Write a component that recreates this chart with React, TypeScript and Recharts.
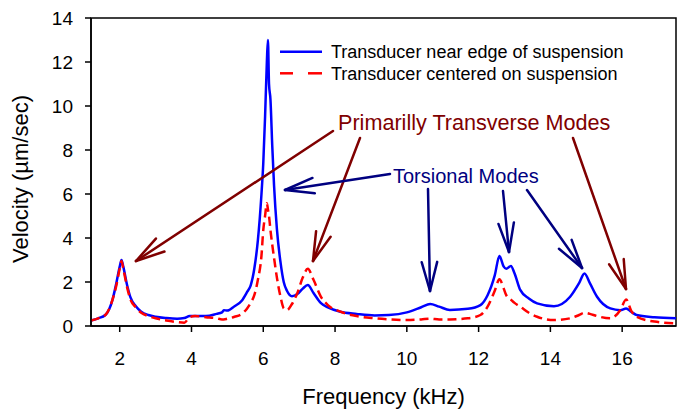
import React from 'react';
import { LineChart, Line, XAxis, YAxis, ReferenceArea } from 'recharts';

const FONT = '"Liberation Sans", Arial, sans-serif';

// frequency in kHz
const FREQ = [
  1.2, 1.4, 1.6, 1.8, 1.9, 2.0, 2.05, 2.1, 2.2, 2.3, 2.45, 2.6, 2.8, 3.0, 3.3, 3.6, 3.8, 3.95,
  4.1, 4.4, 4.7, 4.85, 4.9, 5.0, 5.2, 5.4, 5.55, 5.65, 5.75, 5.85, 5.95, 6.0, 6.05, 6.1, 6.13,
  6.16, 6.2, 6.25, 6.3, 6.38, 6.48, 6.57, 6.66, 6.8, 6.95, 7.1, 7.24, 7.4, 7.6, 7.8, 8.15, 8.6,
  9.1, 9.5, 10.0, 10.4, 10.65, 10.9, 11.2, 11.7, 12.05, 12.25, 12.45, 12.58, 12.7, 12.77, 12.9,
  13.0, 13.16, 13.4, 13.63, 14.1, 14.55, 14.8, 14.95, 15.1, 15.3, 15.67, 15.95, 16.11, 16.25,
  16.4, 16.9, 17.5,
];

// velocity (um/sec), transducer near edge of suspension
const EDGE = [
  0.25, 0.35, 0.5, 1.2, 1.9, 2.7, 3.0, 2.7, 1.9, 1.3, 0.9, 0.65, 0.5, 0.42, 0.36, 0.33, 0.36, 0.45,
  0.45, 0.45, 0.55, 0.62, 0.72, 0.7, 0.9, 1.15, 1.55, 1.85, 2.6, 3.9, 6.0, 7.4, 9.5, 12.0, 13.0,
  11.0, 10.3, 8.2, 6.4, 4.4, 2.9, 2.0, 1.6, 1.35, 1.45, 1.7, 1.86, 1.5, 1.05, 0.85, 0.65, 0.55,
  0.48, 0.5, 0.62, 0.85, 1.0, 0.88, 0.73, 0.78, 0.95, 1.4, 2.3, 3.18, 2.7, 2.6, 2.73,
  2.4, 1.64, 1.25, 1.03, 0.9, 1.33, 1.95, 2.39, 1.95, 1.33, 0.8, 0.72, 0.8, 0.65,
  0.5, 0.4, 0.35,
];

// velocity (um/sec), transducer centered on suspension
const CENTER = [
  0.25, 0.35, 0.5, 1.2, 1.8, 2.6, 2.95, 2.6, 1.8, 1.2, 0.85, 0.6, 0.45, 0.35, 0.25, 0.18, 0.15, 0.4,
  0.45, 0.4, 0.35, 0.3, 0.3, 0.33, 0.42, 0.55, 0.8, 1.05, 1.4, 2.1, 3.2, 4.36, 5.0, 5.58, 5.3,
  5.0, 4.36, 3.7, 3.1, 2.2, 1.33, 0.8, 0.72, 1.0, 1.5, 2.2, 2.6, 2.1, 1.35, 0.95, 0.65, 0.45,
  0.35, 0.3, 0.27, 0.3, 0.33, 0.3, 0.3, 0.35, 0.5, 0.88, 1.6, 2.12, 1.7, 1.4, 1.2,
  1.05, 0.88, 0.6, 0.42, 0.27, 0.35, 0.5, 0.6, 0.55, 0.45, 0.35, 0.73, 1.21, 0.7,
  0.42, 0.2, 0.12,
];

const X_TICKS = [2, 4, 6, 8, 10, 12, 14, 16];
const Y_TICKS = [0, 2, 4, 6, 8, 10, 12, 14];

const SERIES_NAMES = ['Transducer near edge of suspension', 'Transducer centered on suspension'];

const data = FREQ.map((f, i) => ({ f, edge: EDGE[i], center: CENTER[i] }));

// annotation arrows, pixel positions [tailX, tailY, tipX, tipY]
const RED_ARROWS = [
  [333, 131, 136, 261],
  [360, 138, 313, 261],
  [573, 138, 626, 289],
];
const NAVY_ARROWS = [
  [390, 174, 285, 190],
  [428, 189, 430, 291],
  [503, 191, 509, 252],
  [527, 190, 582, 268],
];

const Arrow = ({ a, color }: { a: number[]; color: string }) => {
  const [x1, y1, x2, y2] = a;
  const ang = Math.atan2(y1 - y2, x1 - x2);
  const len = 30;
  const spread = (15 * Math.PI) / 180;
  const b1 = [x2 + len * Math.cos(ang + spread), y2 + len * Math.sin(ang + spread)];
  const b2 = [x2 + len * Math.cos(ang - spread), y2 + len * Math.sin(ang - spread)];
  return (
    <g stroke={color} strokeWidth={2.5} strokeLinecap="round" fill="none">
      <line x1={x1} y1={y1} x2={x2} y2={y2} />
      <line x1={x2} y1={y2} x2={b1[0]} y2={b1[1]} />
      <line x1={x2} y1={y2} x2={b2[0]} y2={b2[1]} />
    </g>
  );
};

export default function App() {
  return (
    <div style={{ position: 'absolute', left: 0, top: 0, width: 679, height: 411, background: '#fff', fontFamily: FONT }}>
      <LineChart width={679} height={411} data={data} margin={{ top: 18, right: 3, bottom: 0, left: 0 }}>
        <ReferenceArea x1={1.2} x2={17.5} y1={0} y2={14} fill="none" stroke="#000" strokeWidth={1.5} />
        <XAxis
          dataKey="f"
          type="number"
          domain={[1.2, 17.5]}
          ticks={X_TICKS}
          allowDataOverflow
          height={85}
          tickSize={6}
          tickMargin={20}
          axisLine={{ stroke: '#000', strokeWidth: 1.5 }}
          tickLine={{ stroke: '#000', strokeWidth: 1.5 }}
          tick={{ fill: '#000', fontSize: 19, fontFamily: FONT }}
          label={{ value: 'Frequency (kHz)', position: 'insideBottom', offset: 7, fontSize: 22, fill: '#000', fontFamily: FONT }}
        />
        <YAxis
          domain={[0, 14]}
          ticks={Y_TICKS}
          width={91}
          tickSize={6}
          tickMargin={12}
          allowDataOverflow
          axisLine={{ stroke: '#000', strokeWidth: 1.5 }}
          tickLine={{ stroke: '#000', strokeWidth: 1.5 }}
          tick={{ fill: '#000', fontSize: 19, fontFamily: FONT }}
          label={{ value: 'Velocity (\u00b5m/sec)', angle: -90, position: 'center', dx: -25, dy: 7, fontSize: 22, fill: '#000', fontFamily: FONT }}
        />
        <Line
          dataKey="edge"
          name={SERIES_NAMES[0]}
          type="monotone"
          stroke="#0000ff"
          strokeWidth={2.5}
          dot={false}
          isAnimationActive={false}
        />
        <Line
          dataKey="center"
          name={SERIES_NAMES[1]}
          type="monotone"
          stroke="#ff0000"
          strokeWidth={2.5}
          strokeDasharray="9 5"
          dot={false}
          isAnimationActive={false}
        />
      </LineChart>
      <svg width={679} height={411} style={{ position: 'absolute', left: 0, top: 0, pointerEvents: 'none' }}>
        <g>
          <line x1={280} y1={51.7} x2={322} y2={51.7} stroke="#0000ff" strokeWidth={2.5} />
          <text x={331} y={58.3} fontSize={18} fontFamily={FONT} fill="#000">{SERIES_NAMES[0]}</text>
          <line x1={280} y1={73.3} x2={293} y2={73.3} stroke="#ff0000" strokeWidth={2.5} />
          <line x1={308} y1={73.3} x2={322} y2={73.3} stroke="#ff0000" strokeWidth={2.5} />
          <text x={331} y={79.9} fontSize={18} fontFamily={FONT} fill="#000">{SERIES_NAMES[1]}</text>
        </g>
        {RED_ARROWS.map((a, i) => <Arrow key={'r' + i} a={a} color="#800000" />)}
        {NAVY_ARROWS.map((a, i) => <Arrow key={'n' + i} a={a} color="#000080" />)}
        <text x={338} y={130} fontSize={21.6} fontFamily={FONT} fill="#800000">Primarilly Transverse Modes</text>
        <text x={393} y={183} fontSize={20} fontFamily={FONT} fill="#000080">Torsional Modes</text>
      </svg>
    </div>
  );
}
